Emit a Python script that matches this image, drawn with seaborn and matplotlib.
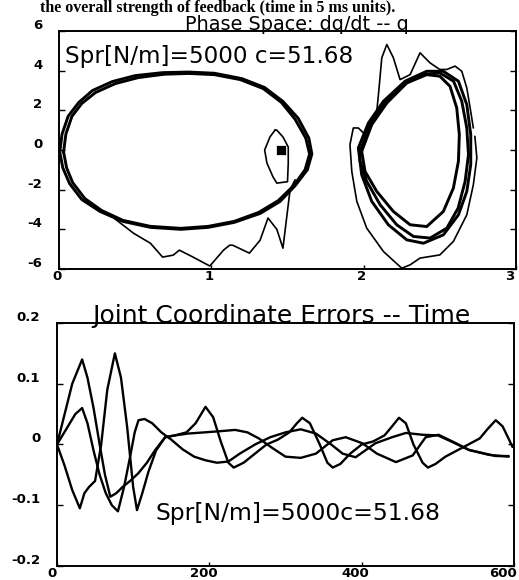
import pandas as pd
import seaborn as sns
import matplotlib.pyplot as plt
import matplotlib.transforms as mtransforms

# ---- phase space (top panel): q, dq/dt ----
# left orbit, two nearly overlapping passes
orbit1_q = [0.005, 0.02, 0.06, 0.13, 0.22, 0.35, 0.5, 0.68, 0.85, 1.02, 1.2, 1.35, 1.47, 1.57, 1.64,
            1.66, 1.63, 1.55, 1.45, 1.32, 1.15, 0.98, 0.8, 0.6, 0.42, 0.27, 0.15, 0.07, 0.025, 0.005]
orbit1_v = [-0.1, 0.8, 1.7, 2.4, 3.0, 3.45, 3.75, 3.9, 3.93, 3.87, 3.6, 3.15, 2.45, 1.6, 0.6,
            -0.2, -1.0, -1.8, -2.6, -3.2, -3.65, -3.9, -4.0, -3.9, -3.6, -3.1, -2.5, -1.7, -0.9, -0.1]
orbit1b_q = [0.03, 0.045, 0.085, 0.15, 0.24, 0.37, 0.52, 0.69, 0.85, 1.02, 1.19, 1.34, 1.46, 1.55, 1.62,
             1.645, 1.615, 1.54, 1.44, 1.31, 1.15, 0.98, 0.8, 0.6, 0.42, 0.28, 0.17, 0.09, 0.05, 0.03]
orbit1b_v = [-0.1, 0.8, 1.7, 2.35, 2.9, 3.35, 3.65, 3.82, 3.86, 3.8, 3.55, 3.1, 2.4, 1.55, 0.6,
             -0.2, -1.0, -1.8, -2.55, -3.15, -3.6, -3.85, -3.95, -3.85, -3.55, -3.05, -2.45, -1.65, -0.9, -0.1]

# right orbit, three passes
orbit2_q = [1.976, 2.042, 2.13, 2.26, 2.39, 2.5, 2.59, 2.644, 2.677, 2.688, 2.666, 2.62, 2.546,
            2.436, 2.327, 2.217, 2.108, 2.02, 1.976, 1.976]
orbit2_v = [-0.07, 1.28, 2.29, 3.3, 3.8, 3.89, 3.47, 2.46, 1.11, -0.24, -1.58, -2.93, -3.94,
            -4.44, -4.36, -3.77, -2.76, -1.58, -0.57, -0.07]
orbit2b_q = [1.987, 2.053, 2.152, 2.283, 2.414, 2.5, 2.567, 2.611, 2.628, 2.622, 2.589, 2.523,
             2.414, 2.305, 2.195, 2.086, 2.009, 1.987]
orbit2b_v = [-0.07, 1.28, 2.37, 3.38, 3.8, 3.72, 3.21, 2.12, 0.77, -0.57, -1.92, -3.1,
             -3.86, -3.77, -3.1, -2.09, -1.08, -0.07]
orbit2c_q = [1.965, 2.031, 2.13, 2.272, 2.414, 2.523, 2.622, 2.677, 2.703, 2.703, 2.677, 2.622,
             2.523, 2.392, 2.283, 2.162, 2.053, 1.987, 1.965]
orbit2c_v = [0.1, 1.36, 2.46, 3.47, 3.97, 3.97, 3.47, 2.29, 0.77, -0.74, -2.09, -3.27,
             -4.28, -4.7, -4.53, -3.77, -2.59, -1.25, 0.1]

# thin transient paths
trans1_q = [0.27, 0.355, 0.49, 0.6, 0.68, 0.75, 0.79, 0.88, 0.99, 1.08, 1.12, 1.14, 1.25, 1.32,
            1.372, 1.43, 1.47, 1.517, 1.55]
trans1_v = [-3.1, -3.4, -4.2, -4.7, -5.4, -5.3, -5.05, -5.4, -5.85, -5.05, -4.8, -4.8, -5.2, -4.55,
            -3.43, -4.0, -4.95, -2.0, -1.5]
blob_q = [1.418, 1.385, 1.35, 1.365, 1.405, 1.43, 1.5, 1.505, 1.505, 1.47, 1.43, 1.418]
blob_v = [1.0, 0.66, 0.0, -0.66, -1.36, -1.67, -1.6, -0.66, 0.15, 0.66, 1.0, 1.0]
outer_left_q = [2.25, 2.13, 2.02, 1.955, 1.922, 1.91, 1.932, 1.965, 2.0]
outer_left_v = [-5.96, -5.12, -3.94, -2.59, -1.08, 0.27, 1.11, 1.11, 0.85]
outer_top_q = [2.086, 2.097, 2.119, 2.152, 2.195, 2.239, 2.305, 2.37, 2.436, 2.5, 2.546, 2.6,
               2.644, 2.677, 2.699, 2.72]
outer_top_v = [1.95, 2.79, 4.65, 5.32, 4.65, 3.55, 3.8, 4.9, 4.39, 4.06, 4.06, 4.23,
               3.97, 3.13, 2.12, 1.11]
outer_right_q = [2.73, 2.743, 2.72, 2.677, 2.589, 2.5, 2.37, 2.305, 2.25]
outer_right_v = [0.69, -0.4, -1.75, -3.27, -4.61, -5.29, -5.45, -5.79, -5.96]
start_q = [1.455]
start_v = [0.0]

# ---- joint coordinate errors (bottom panel) ----
tA = [0, 10, 20, 30, 36, 42, 50, 58, 66, 76, 84, 92, 100, 105, 112, 120, 130, 142, 155, 170, 182,
      195, 205, 215, 225, 232, 245, 260, 275, 290, 305, 315, 322, 332, 345, 355, 362, 372, 385,
      400, 415, 430, 440, 449, 458, 468, 480, 487, 497, 510, 525, 540, 555, 565, 576, 585, 592, 598]
eA = [0, -0.035, -0.075, -0.105, -0.08, -0.07, -0.06, 0.0, 0.09, 0.15, 0.11, 0.03, -0.07, -0.108,
      -0.08, -0.045, -0.01, 0.012, 0.015, 0.02, 0.035, 0.062, 0.045, 0.005, -0.03, -0.038, -0.03,
      -0.015, 0.0, 0.008, 0.02, 0.035, 0.044, 0.035, 0.0, -0.03, -0.038, -0.032, -0.015, 0.0, 0.005,
      0.015, 0.03, 0.044, 0.035, 0.0, -0.03, -0.038, -0.032, -0.02, -0.01, 0.0, 0.01, 0.025, 0.04,
      0.03, 0.012, -0.004]
tB = [0, 10, 20, 33, 40, 48, 56, 63, 70, 78, 86, 96, 107, 118, 129, 142, 155, 172, 194, 215, 234,
      250, 265, 283, 300, 320, 340, 362, 379, 401, 420, 445, 467, 484, 501, 524, 541, 567, 593]
eB = [0, 0.05, 0.1, 0.14, 0.11, 0.06, 0.0, -0.05, -0.086, -0.08, -0.07, -0.06, -0.047, -0.03,
      -0.009, 0.012, 0.015, 0.018, 0.02, 0.022, 0.024, 0.02, 0.01, -0.006, -0.02, -0.022, -0.015,
      0.007, 0.012, 0.002, -0.015, -0.029, -0.018, 0.012, 0.016, 0.002, -0.009, -0.017, -0.02]
tC = [0, 12, 24, 33, 40, 48, 56, 64, 72, 80, 88, 96, 102, 107, 115, 125, 137, 150, 165, 180, 195,
      210, 225, 240, 260, 280, 300, 320, 340, 360, 375, 392, 418, 440, 458, 480, 500, 514, 541, 576, 593]
eC = [0, 0.025, 0.05, 0.06, 0.035, -0.01, -0.05, -0.08, -0.1, -0.11, -0.07, -0.02, 0.02, 0.04,
      0.042, 0.035, 0.02, 0.008, -0.008, -0.02, -0.026, -0.03, -0.028, -0.015, 0.0, 0.012, 0.02,
      0.025, 0.018, 0.0, -0.015, -0.021, 0.002, 0.012, 0.019, 0.016, 0.015, 0.007, -0.009, -0.019, -0.019]

phase_xticks = [0, 1, 2, 3]
phase_yticks = [-6, -4, -2, 0, 2, 4, 6]
phase_ylabels = ['-6', '-4', '-2', '0', '2', '4', '6']
err_xticks = [0, 200, 400, 600]
err_yticks = [-0.2, -0.1, 0, 0.1, 0.2]
err_ylabels = ['-0.2', '-0.1', '0', '0.1', '0.2']

sns.set_theme(style="white")
plt.rcParams['font.family'] = ['DejaVu Sans']
plt.rcParams['text.color'] = 'black'


def segs(*parts):
    rows = []
    for i, (qs, vs) in enumerate(parts):
        rows += [(i, a, b) for a, b in zip(qs, vs)]
    return pd.DataFrame(rows, columns=['seg', 'q', 'v'])


fig = plt.figure(figsize=(5.19, 5.80), dpi=100)
ax1 = fig.add_axes([59 / 519, 1 - 269 / 580, 457 / 519, 238 / 580])
ax2 = fig.add_axes([57 / 519, 1 - 566 / 580, 457 / 519, 243 / 580])

thick = segs((orbit1_q, orbit1_v), (orbit1b_q, orbit1b_v), (orbit2_q, orbit2_v),
             (orbit2b_q, orbit2b_v), (orbit2c_q, orbit2c_v))
thin = segs((trans1_q, trans1_v), (blob_q, blob_v), (outer_left_q, outer_left_v),
            (outer_top_q, outer_top_v), (outer_right_q, outer_right_v))
sns.lineplot(data=thick, x='q', y='v', units='seg', estimator=None, sort=False,
             color='black', lw=2.1, ax=ax1)
sns.lineplot(data=thin, x='q', y='v', units='seg', estimator=None, sort=False,
             color='black', lw=1.2, ax=ax1)
sns.scatterplot(x=start_q, y=start_v, marker='s', s=45, color='black', ax=ax1)

err = pd.concat([pd.DataFrame({'t': tA, 'e': eA, 'j': 'a'}),
                 pd.DataFrame({'t': tB, 'e': eB, 'j': 'b'}),
                 pd.DataFrame({'t': tC, 'e': eC, 'j': 'c'})])
sns.lineplot(data=err, x='t', y='e', units='j', estimator=None, color='black', lw=1.7, ax=ax2)

ax1.set_xlim(0, 3)
ax1.set_ylim(-6, 6)
ax1.set_xticks(phase_xticks)
ax1.set_xticklabels([str(v) for v in phase_xticks])
ax1.set_yticks(phase_yticks)
ax1.set_yticklabels(phase_ylabels)
ax2.set_xlim(0, 600)
ax2.set_ylim(-0.2, 0.2)
ax2.set_xticks(err_xticks)
ax2.set_xticklabels([str(v) for v in err_xticks])
ax2.set_yticks(err_yticks)
ax2.set_yticklabels(err_ylabels)

for ax in (ax1, ax2):
    ax.set_xlabel('')
    ax.set_ylabel('')
    for sp in ax.spines.values():
        sp.set_color('black')
        sp.set_linewidth(1.4)
    ax.tick_params(axis='y', direction='in', length=4, width=1, left=True, right=True,
                   pad=12, labelsize=9.5, colors='black')
    ax.tick_params(axis='x', direction='in', length=3, width=1, bottom=True,
                   pad=1, labelsize=9.5, colors='black')
    for lbl in ax.get_xticklabels() + ax.get_yticklabels():
        lbl.set_fontweight('bold')

up = mtransforms.ScaledTranslation(0, 7 / 100, fig.dpi_scale_trans)
for ax, shifts in ((ax1, [-2, -2, -2, -6]), (ax2, [-5, -6, -6, -11])):
    for tk in ax.yaxis.get_major_ticks():
        tk.label1.set_transform(tk.label1.get_transform() + up)
    for tk, dx in zip(ax.xaxis.get_major_ticks(), shifts):
        left = mtransforms.ScaledTranslation(dx / 100, 0, fig.dpi_scale_trans)
        tk.label1.set_transform(tk.label1.get_transform() + left)

ax1.text(0.521, 1.006, 'Phase Space: dq/dt -- q', transform=ax1.transAxes,
         ha='center', va='baseline', fontsize=13.9)
ax2.text(0.492, 1.0, 'Joint Coordinate Errors -- Time', transform=ax2.transAxes,
         ha='center', va='baseline', fontsize=18)
ax1.text(0.04, 4.39, 'Spr[N/m]=5000 c=51.68', fontsize=16.7, va='baseline')
ax2.text(129, -0.124, 'Spr[N/m]=5000c=51.68', fontsize=16.9, va='baseline')

fig.text(40 / 519, 1 - 11.5 / 580, 'the overall strength of feedback (time in 5 ms units).',
         family=['Liberation Serif'], fontweight='bold', fontsize=11.5, va='baseline')

fig.savefig('out.png', dpi=100)
